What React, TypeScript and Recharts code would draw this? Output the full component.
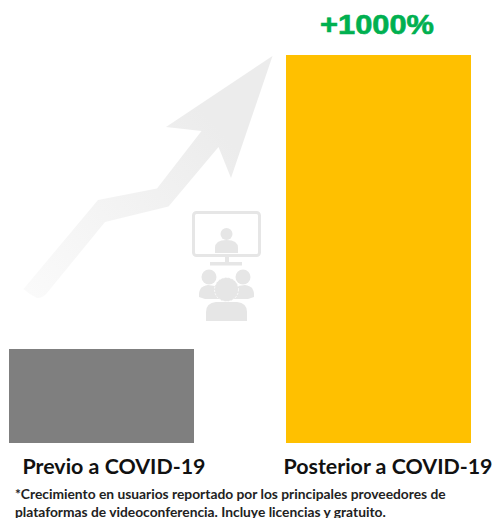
import { BarChart, Bar, XAxis, YAxis, Cell, LabelList } from 'recharts';

const categories = ['Previo a COVID-19', 'Posterior a COVID-19'];
const usageIndex = [24.2, 100];
const growthLabels = ['', '+1000%'];
const barColors = ['#7f7f7f', '#ffc000'];
const footnoteLines = [
  '*Crecimiento en usuarios reportado por los principales proveedores de',
  'plataformas de videoconferencia. Incluye licencias y gratuito.',
];

const chartData = categories.map((name, i) => ({
  name,
  value: usageIndex[i],
  growth: growthLabels[i],
}));

const ICON = '#e6e6e6';
const LABEL_FONT = 'Lato, sans-serif';

// tick labels sit a bit right of the bars in the original
const tickShift = [12.5, 9.5];

function CategoryTick({ x, y, payload, index }: any) {
  return (
    <text
      x={x + tickShift[index]}
      y={y + 25}
      textAnchor="middle"
      fontFamily={LABEL_FONT}
      fontWeight={700}
      fontSize={21.4}
      fill="#111"
    >
      {payload.value}
    </text>
  );
}

function GrowthLabel({ x, y, width, value }: any) {
  if (!value) return null;
  return (
    <text
      x={x + width / 2 - 1.5}
      y={y - 21}
      textAnchor="middle"
      fontFamily="'Liberation Sans', Arial, sans-serif"
      fontWeight={700}
      fontSize={27}
      textLength={114}
      lengthAdjust="spacingAndGlyphs"
      fill="#00b050"
      stroke="#00b050"
      strokeWidth={0.6}
    >
      {value}
    </text>
  );
}

function GrowthArrow() {
  return (
    <g>
      <defs>
        <linearGradient id="arrowFade" gradientUnits="userSpaceOnUse" x1="30" y1="295" x2="220" y2="130">
          <stop offset="0" stopColor="#fafafa" />
          <stop offset="1" stopColor="#ececec" />
        </linearGradient>
      </defs>
      <path
        d="M272.5 56 L166 127 L201.5 131 L157 188.5 L98 200 L23.5 289 Q30 295 37 298 Q43 298 47 293 L105 222 L168.5 206.5 L218.5 147 L231 178 Z"
        fill="url(#arrowFade)"
      />
    </g>
  );
}

function MeetingIcon() {
  return (
    <g fill={ICON}>
      <rect x={193.5} y={212.5} width={66} height={43} rx={3} fill="none" stroke={ICON} strokeWidth={3} />
      <circle cx={226.5} cy={234} r={6} />
      <path d="M215 253 V248 Q215 240 226.5 240 Q238 240 238 248 V253 Z" />
      <rect x={225} y={256} width={4} height={6} />
      <rect x={210} y={262} width={32} height={3.5} />
      <circle cx={209} cy={277} r={7.5} />
      <circle cx={243} cy={277} r={7.5} />
      <path d="M199 297 Q198 286 208 285 L222 287 L222 299 L205 299 Z" />
      <path d="M254 297 Q255 286 245 285 L231 287 L231 299 L248 299 Z" />
      <path d="M206 321 V312 Q206 303 216 302 H237 Q247 303 247 312 V321 Z" />
      <circle cx={226.5} cy={289.5} r={12} stroke="#fff" strokeWidth={0.8} strokeDasharray="2 1.5" />
    </g>
  );
}

export default function App() {
  return (
    <div style={{ position: 'absolute', left: 0, top: 0, width: 493, height: 518, overflow: 'hidden', background: '#fff' }}>
      <BarChart
        width={493}
        height={518}
        data={chartData}
        margin={{ top: 55, right: 0, bottom: 45, left: 0 }}
      >
        <GrowthArrow />
        <MeetingIcon />
        <XAxis
          dataKey="name"
          scale="point"
          padding={{ left: 101.5, right: 114.5 }}
          axisLine={false}
          tickLine={false}
          interval={0}
          tick={<CategoryTick />}
          tickMargin={0}
          height={30}
        />
        <YAxis hide domain={[0, 100]} />
        <Bar dataKey="value" barSize={185} isAnimationActive={false}>
          {chartData.map((entry, i) => (
            <Cell key={entry.name} fill={barColors[i]} />
          ))}
          <LabelList dataKey="growth" content={<GrowthLabel />} />
        </Bar>
        <text fontFamily={LABEL_FONT} fontWeight={700} fontSize={13.8} fill="#222">
          {footnoteLines.map((line, i) => (
            <tspan key={line} x={15} y={499 + i * 17.5}>
              {line}
            </tspan>
          ))}
        </text>
      </BarChart>
    </div>
  );
}
